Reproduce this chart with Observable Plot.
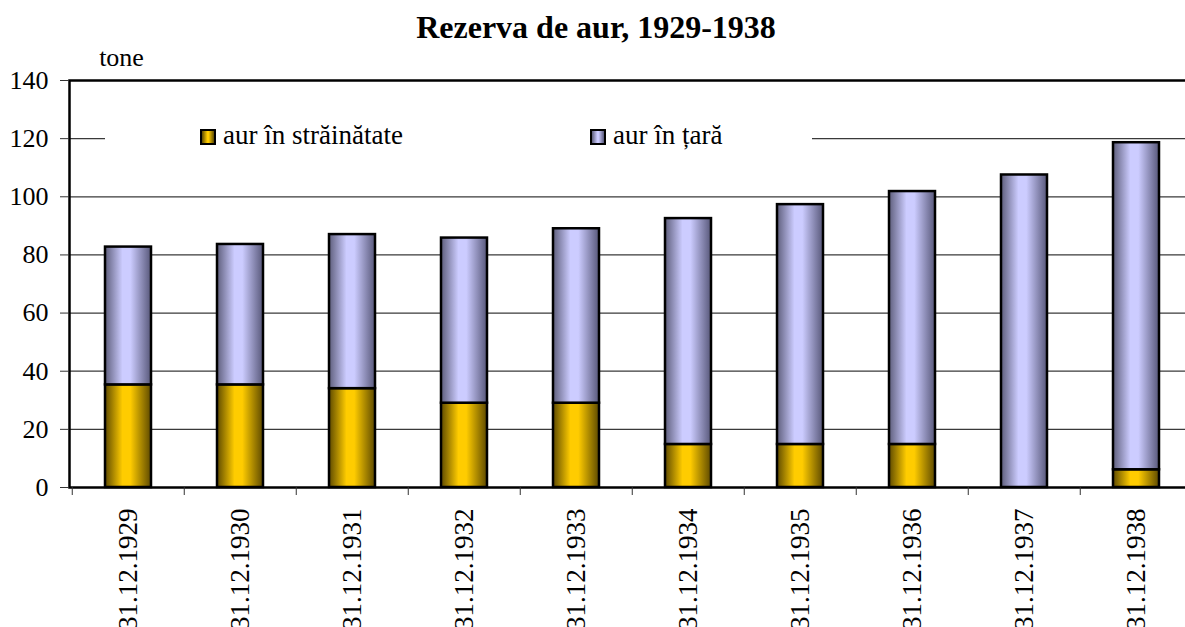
<!DOCTYPE html>
<html><head><meta charset="utf-8">
<script src="https://cdn.jsdelivr.net/npm/d3@7"></script>
<script src="https://cdn.jsdelivr.net/npm/@observablehq/plot@0.6"></script>
<style>
html,body{margin:0;padding:0;background:#fff;overflow:hidden;width:1185px;height:627px;}
#wrap{position:relative;width:1185px;height:627px;font-family:"Liberation Serif","Times New Roman",serif;color:#000;}
#title{height:45px;box-sizing:border-box;padding-top:11px;line-height:32px;font-size:32px;font-weight:bold;text-align:center;padding-left:7px;white-space:nowrap;font-family:"Liberation Serif","Times New Roman",serif;}
#chart svg{display:block;overflow:visible;max-width:none;}
#legend{position:absolute;left:105px;top:120px;width:707px;height:34px;background:#fff;}
.sw{position:absolute;width:12px;height:12px;border:2px solid #000;top:9px;}
.lt{position:absolute;font-size:27px;line-height:27px;top:2px;white-space:nowrap;font-family:"Liberation Serif","Times New Roman",serif;}
</style>
</head><body>
<div id="wrap">
  <div id="title">Rezerva de aur, 1929-1938</div>
  <div id="chart"></div>
  <div id="legend"></div>
</div>
<script>
const categories = ["31.12.1929","31.12.1930","31.12.1931","31.12.1932","31.12.1933","31.12.1934","31.12.1935","31.12.1936","31.12.1937","31.12.1938"];
const series = ["aur în străinătate", "aur în țară"];
const abroad = [35.3, 35.3, 34.0, 29.0, 29.0, 14.8, 14.8, 14.8, 0, 6.1];
const domestic = [47.4, 48.3, 53.0, 56.8, 60.0, 77.7, 82.5, 87.0, 107.5, 112.5];
const yTicks = [0, 20, 40, 60, 80, 100, 120, 140];
const unitLabel = "tone";

const rows = [];
categories.forEach((c, i) => {
  rows.push({cat: c, series: series[0], value: abroad[i]});
  rows.push({cat: c, series: series[1], value: domestic[i]});
});

const font = "Liberation Serif";
const stepHalf = (1185 + 9 - 69) / categories.length / 2;

const chart = Plot.plot({
  width: 1185,
  height: 582,
  marginLeft: 69,
  marginRight: -9,
  marginTop: 35,
  marginBottom: 140,
  style: {fontFamily: font, fontSize: "26px", color: "#000", background: "transparent", overflow: "visible"},
  x: {domain: categories, paddingInner: 0.59, paddingOuter: 0.295, axis: null, label: null},
  y: {domain: [0, 140], axis: null, label: null},
  color: {domain: series, range: ["url(#gGold)", "url(#gLav)"]},
  marks: [
    Plot.gridY(yTicks.filter(d => d > 0 && d < 140), {stroke: "#3a3a3a", strokeOpacity: 1, strokeWidth: 1.2}),
    Plot.barY(rows, Plot.stackY({x: "cat", y: "value", fill: "series", order: series, stroke: "#000", strokeWidth: 2.5})),
    Plot.frame({stroke: "#000", strokeWidth: 2.5}),
    Plot.axisY(yTicks, {label: null, tickSize: 9, tickPadding: 12, fontSize: 26, fontFamily: font, stroke: "#333", tickFormat: d => String(d)}),
    Plot.axisX(categories, {label: null, tickSize: 8, dx: -stepHalf, tickFormat: () => "", stroke: "#333"}),
    Plot.text(categories, {x: d => d, frameAnchor: "bottom", rotate: -90, textAnchor: "end", lineAnchor: "middle", dy: 21, fontSize: 27, fontFamily: font, fill: "#000"}),
    Plot.text([unitLabel], {frameAnchor: "top-left", dx: 52, dy: -15, textAnchor: "middle", lineAnchor: "bottom", fontSize: 26, fontFamily: font, fill: "#000"})
  ]
});

const ns = "http://www.w3.org/2000/svg";
const svg = chart.tagName.toLowerCase() === "svg" ? chart : chart.querySelector("svg");
const defs = document.createElementNS(ns, "defs");
defs.innerHTML = `
<linearGradient id="gGold" x1="0" x2="1" y1="0" y2="0">
  <stop offset="0" stop-color="#5e4a00"/>
  <stop offset="0.38" stop-color="#ffcc00"/>
  <stop offset="0.55" stop-color="#ffcc00"/>
  <stop offset="1" stop-color="#5e4a00"/>
</linearGradient>
<linearGradient id="gLav" x1="0" x2="1" y1="0" y2="0">
  <stop offset="0" stop-color="#5e5e7c"/>
  <stop offset="0.38" stop-color="#ccccff"/>
  <stop offset="0.55" stop-color="#ccccff"/>
  <stop offset="1" stop-color="#58587a"/>
</linearGradient>`;
svg.insertBefore(defs, svg.firstChild);
document.getElementById("chart").appendChild(chart);

const legend = document.getElementById("legend");
const swatchCss = ["linear-gradient(to right,#5e4a00,#ffcc00 45%,#ffcc00 55%,#5e4a00)", "linear-gradient(to right,#5e5e7c,#ccccff 45%,#ccccff 55%,#58587a)"];
const legendX = [95, 485];
series.forEach((s, i) => {
  const sw = document.createElement("div");
  sw.className = "sw";
  sw.style.left = legendX[i] + "px";
  sw.style.background = swatchCss[i];
  legend.appendChild(sw);
  const t = document.createElement("div");
  t.className = "lt";
  t.style.left = (legendX[i] + 23) + "px";
  t.textContent = s;
  legend.appendChild(t);
});
</script>
</body></html>
